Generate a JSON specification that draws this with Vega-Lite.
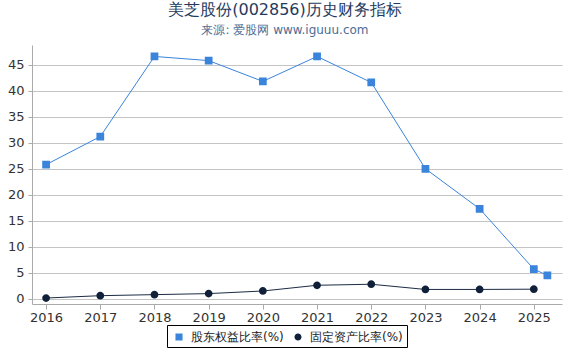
{
  "$schema": "https://vega.github.io/schema/vega-lite/v6.json",
  "width": 530,
  "height": 259,
  "autosize": {"type": "none"},
  "padding": {"left": 32, "top": 45, "right": 8, "bottom": 46},
  "background": "white",
  "config": {
    "font": "DejaVu Sans",
    "view": {"stroke": null}
  },
  "title": {
    "text": "美芝股份(002856)历史财务指标",
    "subtitle": "来源: 爱股网 www.iguuu.com",
    "anchor": "middle",
    "dx": -12,
    "offset": 9,
    "fontSize": 16,
    "fontWeight": "normal",
    "color": "#1f3b60",
    "subtitleFontSize": 12,
    "subtitleColor": "#4d6c94",
    "subtitlePadding": 7
  },
  "data": {
    "values": [
      {"year": 2016, "series": "股东权益比率(%)", "value": 25.8},
      {"year": 2017, "series": "股东权益比率(%)", "value": 31.2},
      {"year": 2018, "series": "股东权益比率(%)", "value": 46.6},
      {"year": 2019, "series": "股东权益比率(%)", "value": 45.8},
      {"year": 2020, "series": "股东权益比率(%)", "value": 41.8},
      {"year": 2021, "series": "股东权益比率(%)", "value": 46.6},
      {"year": 2022, "series": "股东权益比率(%)", "value": 41.6},
      {"year": 2023, "series": "股东权益比率(%)", "value": 25.0},
      {"year": 2024, "series": "股东权益比率(%)", "value": 17.3},
      {"year": 2025, "series": "股东权益比率(%)", "value": 5.7},
      {"year": 2025.25, "series": "股东权益比率(%)", "value": 4.5},
      {"year": 2016, "series": "固定资产比率(%)", "value": 0.15},
      {"year": 2017, "series": "固定资产比率(%)", "value": 0.6},
      {"year": 2018, "series": "固定资产比率(%)", "value": 0.8},
      {"year": 2019, "series": "固定资产比率(%)", "value": 1.0},
      {"year": 2020, "series": "固定资产比率(%)", "value": 1.5},
      {"year": 2021, "series": "固定资产比率(%)", "value": 2.6},
      {"year": 2022, "series": "固定资产比率(%)", "value": 2.8},
      {"year": 2023, "series": "固定资产比率(%)", "value": 1.8},
      {"year": 2024, "series": "固定资产比率(%)", "value": 1.8},
      {"year": 2025, "series": "固定资产比率(%)", "value": 1.85}
    ]
  },
  "encoding": {
    "x": {
      "field": "year",
      "type": "quantitative",
      "scale": {"domain": [2015.74, 2025.52], "nice": false, "zero": false},
      "axis": {
        "title": null,
        "values": [2016, 2017, 2018, 2019, 2020, 2021, 2022, 2023, 2024, 2025],
        "format": "d",
        "grid": false,
        "domainColor": "#aaaaaa",
        "tickColor": "#aaaaaa",
        "tickSize": 5,
        "labelFontSize": 13,
        "labelColor": "#333333",
        "labelPadding": 2
      }
    },
    "y": {
      "field": "value",
      "type": "quantitative",
      "scale": {"domain": [-1, 48.8], "nice": false, "zero": false},
      "axis": {
        "title": null,
        "values": [0, 5, 10, 15, 20, 25, 30, 35, 40, 45],
        "grid": true,
        "gridColor": "#c4c4c4",
        "gridWidth": 1,
        "domainColor": "#aaaaaa",
        "tickColor": "#aaaaaa",
        "tickSize": 4,
        "labelFontSize": 13,
        "labelColor": "#333333",
        "labelPadding": 4
      }
    }
  },
  "layer": [
    {
      "transform": [{"filter": "datum.series === '股东权益比率(%)'"}],
      "mark": {"type": "line", "strokeWidth": 1, "color": "#3a84dc"}
    },
    {
      "transform": [{"filter": "datum.series === '固定资产比率(%)'"}],
      "mark": {"type": "line", "strokeWidth": 1, "color": "#1c2c44"}
    },
    {
      "mark": {"type": "point", "filled": true, "opacity": 1, "size": 240},
      "encoding": {
        "shape": {
          "field": "series",
          "type": "nominal",
          "scale": {
            "domain": ["股东权益比率(%)", "固定资产比率(%)"],
            "range": [
              "M-1,0H1M-0.5,-0.5H0.5V0.5H-0.5Z",
              "M-1,0H1M-0.5,0A0.5,0.5 0 1,0 0.5,0A0.5,0.5 0 1,0 -0.5,0Z"
            ]
          },
          "legend": {
            "orient": "none",
            "legendX": 135,
            "legendY": 280,
            "direction": "horizontal",
            "title": null,
            "labelFontSize": 12,
            "labelColor": "#222222",
            "labelOffset": 4,
            "symbolSize": 200,
            "columnPadding": 6,
            "padding": 4,
            "strokeColor": "#000000",
            "encode": {
              "symbols": {
                "update": {
                  "stroke": {"signal": "datum.value === '股东权益比率(%)' ? '#3a84dc' : '#0f2038'"},
                  "strokeWidth": {"value": 1.3},
                  "opacity": {"value": 1}
                }
              }
            }
          }
        },
        "color": {
          "field": "series",
          "type": "nominal",
          "scale": {
            "domain": ["股东权益比率(%)", "固定资产比率(%)"],
            "range": ["#3a84dc", "#0f2038"]
          },
          "legend": {
            "orient": "none",
            "legendX": 135,
            "legendY": 280,
            "direction": "horizontal",
            "title": null,
            "labelFontSize": 12,
            "labelColor": "#222222",
            "labelOffset": 4,
            "symbolSize": 200,
            "columnPadding": 6,
            "padding": 4,
            "strokeColor": "#000000",
            "encode": {
              "symbols": {
                "update": {
                  "stroke": {"signal": "datum.value === '股东权益比率(%)' ? '#3a84dc' : '#0f2038'"},
                  "strokeWidth": {"value": 1.3},
                  "opacity": {"value": 1}
                }
              }
            }
          }
        }
      }
    }
  ]
}
